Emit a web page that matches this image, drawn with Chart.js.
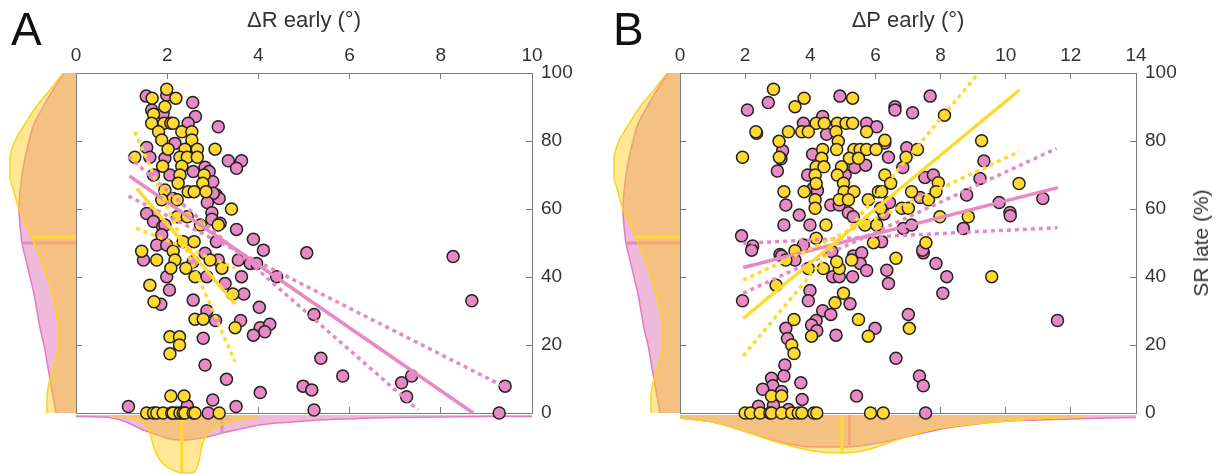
<!DOCTYPE html>
<html><head><meta charset="utf-8">
<script src="https://cdn.jsdelivr.net/npm/chart.js@4.4.0/dist/chart.umd.min.js"></script>
<style>
html,body{margin:0;padding:0;background:#fff;}
#wrap{position:relative;width:1218px;height:474px;overflow:hidden;font-family:'Liberation Sans',Arial,Helvetica,sans-serif;background:#fff}
canvas{position:absolute;}
.lbl{position:absolute;line-height:1;font-size:46px;color:#111}
#ylab{position:absolute;left:1201px;top:243px;transform:translate(-50%,-50%) rotate(-90deg);font-size:21px;white-space:nowrap;color:#333}
</style></head>
<body><div id="wrap">
<canvas id="aLeft" width="76" height="360" style="left:0;top:63px"></canvas>
<canvas id="aBottom" width="456" height="61" style="left:76px;top:413px"></canvas>
<canvas id="aMain" width="609" height="474" style="left:0;top:0"></canvas>
<canvas id="bLeft" width="76" height="360" style="left:604px;top:63px"></canvas>
<canvas id="bBottom" width="456" height="61" style="left:680px;top:413px"></canvas>
<canvas id="bMain" width="609" height="474" style="left:609px;top:0"></canvas>
<div class="lbl" style="left:11px;top:6px">A</div>
<div class="lbl" style="left:613px;top:6px">B</div>
<div id="ylab">SR late (%)</div>
</div>
<script>
// ---------------- DATA ----------------
// Panel A: ΔR early (x) vs SR late (y)
const aYellow = [[1.99,95.2],[1.67,92.6],[2.19,92.6],[1.95,90.1],[1.7,87.9],[1.66,85.2],[1.93,85.2],[2.08,85.2],[2.13,85.2],[1.81,82.7],[2.32,82.7],[2.54,82.7],[1.88,80.3],[2.54,80.3],[2.02,77.6],[2.39,77.6],[2.66,77.6],[3.05,77.6],[1.29,75.2],[2.28,75.2],[2.44,75.2],[2.66,75.2],[1.9,72.6],[2.32,72.6],[2.28,70],[2.81,70],[2.24,67.6],[2.78,67.6],[1.95,65.6],[2.46,65.1],[2.59,65.1],[2.85,65.1],[2.13,63.1],[3.41,60],[1.88,62.7],[2.22,62.7],[2.22,57.7],[2.44,57.7],[2.73,55.3],[3.12,55.3],[2.35,50.4],[2.59,50.4],[1.44,47.6],[2.13,47.6],[1.77,45],[2.17,45],[2.08,42.6],[2.41,42.6],[2.94,45],[3.2,42.6],[2.61,40.1],[1.62,37.6],[3.44,35],[1.71,32.7],[2.61,27.6],[2.79,27.6],[3.49,25.1],[2.06,22.4],[2.27,22.4],[2.27,20],[2.06,17.4],[2.08,5],[2.37,5],[1.55,0],[1.7,0],[1.77,0],[1.91,0],[2.1,0],[2.13,0],[2.28,0],[2.35,0],[2.39,0],[2.57,0],[2.61,0],[3.14,0]];
const aPink = [[1.54,93.2],[1.99,93.5],[2.56,91.3],[1.66,89.1],[1.91,88.1],[2.62,87.2],[2.46,85.2],[3.12,84.2],[2.17,79.3],[1.55,78.1],[1.62,75.2],[3.34,74.2],[3.63,74.2],[3.52,72],[1.95,74.9],[2.57,71],[2.83,72.3],[2.92,71],[1.7,70],[2.06,70],[3.0,68],[3.08,64.1],[3.14,63.1],[3.01,64.6],[2.88,61.9],[1.7,58.2],[1.55,58.7],[1.7,56.3],[1.9,54.8],[2.98,58.9],[2.98,57],[1.95,55.3],[3.16,55.8],[3.52,54],[3.89,51.1],[1.88,52.4],[3.08,50.4],[1.77,49.4],[1.99,49.4],[4.11,47.9],[5.06,47.1],[2.83,47],[1.48,45],[2.57,44.5],[3.12,45],[3.56,45],[3.82,44],[3.96,44],[2.87,40.1],[1.99,40.1],[4.4,40.1],[3.63,40.1],[3.27,38.1],[2.05,36.2],[3.68,35],[1.86,32],[2.57,33.2],[4.02,31.1],[2.87,30.1],[3.06,27.2],[3.61,27.2],[4.04,25.1],[4.25,26.1],[4.14,23.9],[3.89,22.9],[5.22,29],[2.79,22],[5.37,16.1],[2.83,14.1],[3.3,9.9],[5.85,10.9],[4.04,6],[4.98,7.9],[5.17,6.8],[3.0,3.8],[3.51,1.9],[1.15,1.9],[2.44,2.1],[5.22,0.9],[7.14,8.9],[7.25,4.8],[7.36,10.9],[9.41,7.9],[9.28,0],[8.27,46],[8.68,33],[2.2,0],[2.9,0]];
// regression fits and bounds, panel A
const aFitYellowX = [1.33, 3.49], aFitYellowY = [66.1, 32.1];
const aBandYellow1X = [1.29, 3.49], aBandYellow1Y = [82.7, 15.0];
const aBandYellow2X = [1.32, 3.49], aBandYellow2Y = [54.4, 42.7];
const aFitPinkX = [1.17, 8.71], aFitPinkY = [69.7, 0];
const aBandPink1X = [1.15, 7.5], aBandPink1Y = [75.4, 0.9];
const aBandPink2X = [1.15, 9.37], aBandPink2Y = [63.8, 7.9];
// bottom marginal densities, panel A (ΔR early)
const drGridYellow = [0.8,1.2,1.45,1.59,1.73,1.84,2.0,2.13,2.3,2.45,2.6,2.7,2.78,2.92,3.1,3.29,3.5,3.73,3.97];
const drDensYellow = [2,3,7,15,35,45,52,55,58,58,57,45,28,17,12,8,6,4,2];
const drGridPink = [0,0.5,0.8,1.1,1.47,1.8,2.06,2.43,2.87,3.3,3.7,4.03,4.4,4.76,5.3,5.86,6.5,7,8,9,10];
const drDensPink = [1.5,2,3,7,15,20,24,25,22,17,13,10,8,7,5,4,3,2.5,2,1.5,1.5];
const drMedian = {yellow: 2.32, pink: 3.2};
const drMedianDens = {yellow: 58, pink: 18};

// Panel B: ΔP early (x) vs SR late (y)
const bYellow = [[2.87,95.2],[3.81,92.6],[3.53,90.1],[5.3,92.6],[8.12,87.6],[2.33,82.7],[3.33,82.7],[4.18,85.2],[4.43,85.2],[4.83,85.2],[5.1,85.2],[5.3,85.2],[3.74,82.7],[3.94,82.7],[4.79,82.7],[5.73,82.7],[3.04,79.9],[4.86,79.9],[6.29,80.2],[4.38,77.5],[4.81,77.5],[5.34,77.5],[5.53,77.5],[5.73,77.5],[6.02,77.5],[7.29,77.5],[1.92,75.2],[3.05,75.2],[4.35,74.9],[5.2,74.9],[5.48,74.9],[6.94,75.2],[4.18,72.4],[4.42,72.4],[4.96,72.4],[4.15,70],[4.83,70],[6.29,70],[6.47,67.6],[7.93,67.7],[4.18,67.5],[5.02,67.6],[3.81,65.1],[3.19,65.1],[5.04,65.1],[5.34,65.1],[6.09,65.1],[6.19,65.1],[7.11,65.1],[7.63,62.7],[7.86,65.1],[4.15,62.7],[4.15,60.2],[4.89,62.7],[5.17,62.7],[5.78,62.7],[6.81,60.2],[7.01,60.2],[6.16,60.2],[7.98,57.7],[8.85,57.7],[4.48,55.3],[5.68,55.3],[6.04,55.3],[4.18,51.4],[5.94,50.1],[7.55,50.1],[3.53,47.7],[6.63,45.5],[3.25,45],[3.94,42.5],[4.4,42.5],[4.89,42.5],[4.81,44.5],[5.27,45],[9.57,40.1],[2.95,37.6],[5.02,35.2],[4.76,32.4],[3.5,27.5],[5.48,27.5],[5.78,22.6],[7.04,24.9],[4.04,22.6],[3.43,20],[3.5,17.5],[2.81,5],[3.12,5],[9.26,80.1],[10.41,67.5],[2.0,0],[2.17,0],[2.46,0],[2.76,0],[2.81,0],[3.12,0],[3.43,0],[3.63,0],[3.74,0],[4.11,0],[4.2,0],[5.85,0],[6.24,0]];
const bPink = [[2.71,91.3],[2.07,89.1],[4.91,93.2],[7.68,93.2],[6.6,90.1],[6.6,89.1],[7.14,88.3],[4.38,87.2],[2.35,82.3],[3.79,85.2],[5.73,85.2],[6.04,84.2],[4.5,82],[6.29,79.4],[3.15,77.1],[6.96,78],[3.1,74.8],[4.07,76.1],[6.4,75.2],[2.99,71.2],[5.37,72.2],[5.7,72.9],[6.84,72.2],[3.92,70],[5.07,70],[7.52,69.3],[7.78,70],[4.09,66.1],[4.22,65.4],[7.37,63.4],[8.8,64.1],[6.43,61.9],[3.25,61.2],[4.63,61.2],[4.89,61.2],[3.66,58.2],[5.17,58.9],[5.32,57.7],[6.26,58.5],[3.99,55.3],[3.19,55.3],[6.86,54.3],[7.11,55.3],[8.7,54.3],[1.89,52.1],[6.19,50.4],[2.23,49.1],[7.47,47.1],[3.79,49.4],[5.32,46.2],[5.58,47.1],[4.66,47.5],[3.07,46.6],[2.2,47.9],[3.12,46.2],[3.53,45],[4.69,40.1],[4.89,40.1],[5.3,40.1],[5.53,44],[5.73,41.9],[6.35,42],[6.4,38.1],[7.45,47.9],[7.86,44],[8.19,40.1],[8.07,35.2],[1.92,33],[3.99,36],[3.94,33],[5.22,32.1],[4.38,30.1],[4.63,29],[4.18,27.2],[4.04,25.9],[4.2,24.2],[5.99,24.9],[7.01,29],[3.25,24.9],[3.3,21.9],[4.79,22.9],[6.63,16.1],[3.22,14.1],[3.19,10.9],[7.35,10.9],[7.47,8],[2.81,10.2],[2.85,8],[2.54,7],[3.71,8.9],[3.75,4],[5.42,5],[3.12,6.3],[2.41,2],[2.87,2.3],[3.33,1],[7.54,0],[9.33,74.1],[9.21,69],[9.8,61.9],[10.13,59],[10.14,58],[11.14,63.1],[11.59,27.2]];
const bFitYellowX = [1.94, 10.42], bFitYellowY = [27.8, 95.0];
const bBandYellow1X = [1.94, 9.16], bBandYellow1Y = [16.8, 99.9];
const bBandYellow2X = [1.94, 10.42], bBandYellow2Y = [39.1, 76.9];
const bFitPinkX = [1.94, 11.6], bFitPinkY = [42.8, 66.3];
const bBandPink1X = [1.94, 11.56], bBandPink1Y = [35.2, 77.8];
const bBandPink2X = [1.94, 11.59], bBandPink2Y = [49.9, 54.5];
// bottom marginal densities, panel B (ΔP early)
const dpGridYellow = [0,1,2.05,3.07,4.1,4.97,5.73,6.65,7.67,8.7,9.7,11,12.4];
const dpDensYellow = [3,7,17,28,36,38,35,25,15,10,7,4,2];
const dpGridPink = [0,1,2.05,3.07,4.1,5.1,6.1,7.2,8.2,9.7,11,12.5,14];
const dpDensPink = [3,7,17,27,32,32,28,20,13,7,5,3.5,2.5];
const dpMedian = {yellow: 4.97, pink: 5.2};
const dpMedianDens = {yellow: 38, pink: 31};

// left marginal densities (SR late, shared by both panels)
const srGrid = [0,5,10,15,20,25,30,35,40,45,50,55,60,65,70,75,80,85,90,95,100];
const srDensYellow = [29,29,26,21,18,18,20,24,29,35,42,49,57,62,66,66,61,51,40,26,13];
const srDensPink   = [20,23,26,29,32,36,39,42,46,50,54,56,57,56,54,51,47,42,33,23,12];
const srMedian = {yellow: 51.8, pink: 50};
const srMedianDens = {yellow: 44, pink: 54};

// ---------------- STYLE ----------------
const FONT = "'Liberation Sans', Arial, Helvetica, sans-serif";
Chart.defaults.font.family = FONT;
const YEL = '#FFD92F', PINK = '#E78AC3';
const YEL_FILL = 'rgba(252,205,25,0.45)', PINK_FILL = 'rgba(226,128,190,0.55)';
const AX = '#7a7a7a', TXT = '#333333';

const toPts = arr => arr.map(p => ({x: p[0], y: p[1]}));
const zipXY = (xs, ys) => xs.map((x, i) => ({x: x, y: ys[i]}));
const zipYX = (ys, xs) => ys.map((y, i) => ({x: xs[i], y: y}));

function lineDs(xs, ys, color, dotted, order) {
  return {data: zipXY(xs, ys), showLine: true, pointRadius: 0, borderColor: color,
    borderWidth: 3.5, borderDash: dotted ? [4, 4] : [], order: order, clip: false};
}
function pointDs(arr, color, order) {
  return {data: toPts(arr), showLine: false, pointRadius: 6, pointHoverRadius: 6,
    backgroundColor: color, borderColor: '#222', borderWidth: 1.5, order: order, clip: false};
}

function mainChart(id, c) {
  const tickFont = {size: 19, family: FONT};
  const gridOpt = {drawOnChartArea: false, drawTicks: true, tickLength: -6, color: AX, lineWidth: 1};
  new Chart(document.getElementById(id), {
    type: 'scatter',
    data: {datasets: [
      lineDs(c.fitP[0], c.fitP[1], PINK, false, 1),
      lineDs(c.bandP1[0], c.bandP1[1], PINK, true, 1),
      lineDs(c.bandP2[0], c.bandP2[1], PINK, true, 1),
      lineDs(c.fitY[0], c.fitY[1], YEL, false, 0),
      lineDs(c.bandY1[0], c.bandY1[1], YEL, true, 0),
      lineDs(c.bandY2[0], c.bandY2[1], YEL, true, 0),
      pointDs(c.yellow, YEL, 2),
      pointDs(c.pink, PINK, 3)
    ]},
    options: {
      responsive: false, animation: false, events: [],
      layout: {padding: {left: c.padLeft, right: 0, top: 0, bottom: 61}},
      plugins: {legend: {display: false}, tooltip: {enabled: false}},
      scales: {
        x: {type: 'linear', position: 'top', min: 0, max: c.xMax,
          ticks: {stepSize: 2, font: tickFont, color: TXT, padding: 12, maxRotation: 0, autoSkip: false},
          grid: gridOpt, border: {display: true, color: AX, width: 1},
          title: {display: true, text: c.xTitle, font: {size: 22, family: FONT}, color: TXT, padding: {top: 8, bottom: 0}},
          afterFit: s => { s.height = 73; }},
        y: {type: 'linear', position: 'right', min: 0, max: 100,
          ticks: {stepSize: 20, font: tickFont, color: TXT, padding: 15},
          grid: gridOpt, border: {display: true, color: AX, width: 1},
          afterFit: s => { s.width = c.rightW; }},
        x2: {type: 'linear', position: 'bottom', min: 0, max: c.xMax,
          ticks: {display: false, stepSize: 2},
          grid: gridOpt, border: {display: true, color: AX, width: 1},
          afterFit: s => { s.height = 0; }},
        y2: {type: 'linear', position: 'left', min: 0, max: 100,
          ticks: {display: false, stepSize: 20},
          grid: gridOpt, border: {display: true, color: AX, width: 1},
          afterFit: s => { s.width = 0; }}
      }
    }
  });
}

function leftMarginal(id) {
  new Chart(document.getElementById(id), {
    type: 'line',
    data: {datasets: [
      {data: zipYX(srGrid, srDensPink), borderColor: '#E07CC0', borderWidth: 1.5, backgroundColor: PINK_FILL,
        fill: 'origin', pointRadius: 0, cubicInterpolationMode: 'monotone', order: 4},
      {data: [{x: 0, y: srMedian.pink}, {x: srMedianDens.pink, y: srMedian.pink}], borderColor: PINK,
        borderWidth: 3, pointRadius: 0, fill: false, order: 3},
      {data: zipYX(srGrid, srDensYellow), borderColor: '#FFD21A', borderWidth: 1.5, backgroundColor: YEL_FILL,
        fill: 'origin', pointRadius: 0, cubicInterpolationMode: 'monotone', order: 2},
      {data: [{x: 0, y: srMedian.yellow}, {x: srMedianDens.yellow, y: srMedian.yellow}], borderColor: YEL,
        borderWidth: 3, pointRadius: 0, fill: false, order: 1}
    ]},
    options: {
      indexAxis: 'y', responsive: false, animation: false, events: [],
      layout: {padding: {left: 0, right: 0, top: 10, bottom: 10}},
      plugins: {legend: {display: false}, tooltip: {enabled: false}},
      scales: {
        x: {type: 'linear', display: false, min: 0, max: 76, reverse: true},
        y: {type: 'linear', display: false, min: 0, max: 100}
      }
    }
  });
}

function bottomMarginal(id, xMax, gy, dy, gp, dp, med, medD) {
  new Chart(document.getElementById(id), {
    type: 'line',
    data: {datasets: [
      {data: zipXY(gp, dp), borderColor: '#E07CC0', borderWidth: 1.5, backgroundColor: PINK_FILL,
        fill: 'origin', pointRadius: 0, cubicInterpolationMode: 'monotone', order: 4},
      {data: [{x: med.pink, y: 0}, {x: med.pink, y: medD.pink}], borderColor: PINK,
        borderWidth: 3, pointRadius: 0, fill: false, order: 3},
      {data: zipXY(gy, dy), borderColor: '#FFD21A', borderWidth: 1.5, backgroundColor: YEL_FILL,
        fill: 'origin', pointRadius: 0, cubicInterpolationMode: 'monotone', order: 2},
      {data: [{x: med.yellow, y: 0}, {x: med.yellow, y: medD.yellow}], borderColor: YEL,
        borderWidth: 3, pointRadius: 0, fill: false, order: 1}
    ]},
    options: {
      responsive: false, animation: false, events: [],
      layout: {padding: {left: 0, right: 0, top: 2, bottom: 0}},
      plugins: {legend: {display: false}, tooltip: {enabled: false}},
      scales: {
        x: {type: 'linear', display: false, min: 0, max: xMax},
        y: {type: 'linear', display: false, min: 0, max: 59, reverse: true}
      }
    }
  });
}

leftMarginal('aLeft');
leftMarginal('bLeft');
bottomMarginal('aBottom', 10, drGridYellow, drDensYellow, drGridPink, drDensPink, drMedian, drMedianDens);
bottomMarginal('bBottom', 14, dpGridYellow, dpDensYellow, dpGridPink, dpDensPink, dpMedian, dpMedianDens);

mainChart('aMain', {xMax: 10, xTitle: 'ΔR early (°)', padLeft: 76, rightW: 77,
  yellow: aYellow, pink: aPink,
  fitY: [aFitYellowX, aFitYellowY], bandY1: [aBandYellow1X, aBandYellow1Y], bandY2: [aBandYellow2X, aBandYellow2Y],
  fitP: [aFitPinkX, aFitPinkY], bandP1: [aBandPink1X, aBandPink1Y], bandP2: [aBandPink2X, aBandPink2Y]});
mainChart('bMain', {xMax: 14, xTitle: 'ΔP early (°)', padLeft: 71, rightW: 82,
  yellow: bYellow, pink: bPink,
  fitY: [bFitYellowX, bFitYellowY], bandY1: [bBandYellow1X, bBandYellow1Y], bandY2: [bBandYellow2X, bBandYellow2Y],
  fitP: [bFitPinkX, bFitPinkY], bandP1: [bBandPink1X, bBandPink1Y], bandP2: [bBandPink2X, bBandPink2Y]});
</script>
</body></html>
